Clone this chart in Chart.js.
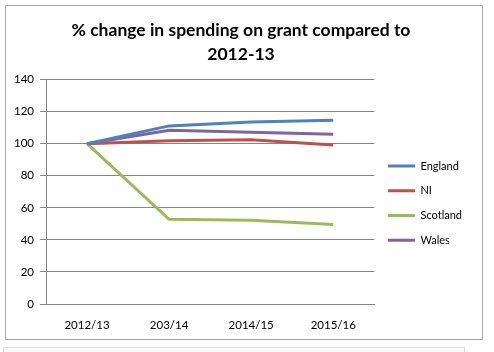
<!DOCTYPE html>
<html lang="en">
<head>
  <meta charset="UTF-8">
  <title>% change in spending on grant</title>
  <script src="https://cdn.jsdelivr.net/npm/chart.js"></script>
  <style>
    body { margin: 0; background: #fff; }
    #box { position: absolute; left: 5px; top: 5px; width: 476px; height: 333px; border: 1px solid #a6a6a6; }
    #under { position: absolute; left: 3px; top: 347px; width: 460px; height: 12px; border: 1px solid #dcdcdc; background: #f8f8f8; }
  </style>
</head>
<body>
  <div id="box"><canvas id="grafico" width="476" height="333"></canvas></div>
  <div id="under"></div>

  <script>
    const anni = ['2012/13', '203/14', '2014/15', '2015/16'];
    const england = [100, 111.1, 113.5, 114.6];
    const ni = [100, 101.8, 102.4, 99.1];
    const scotland = [100, 52.8, 52.2, 49.6];
    const wales = [100, 108.4, 107.2, 105.9];

    const font = 'Lato, "Open Sans", sans-serif';

    function serie(nome, valori, colore) {
      return {
        label: nome,
        data: valori,
        borderColor: colore,
        backgroundColor: colore,
        borderWidth: 3,
        pointRadius: 0,
        tension: 0,
        fill: false
      };
    }

    new Chart(document.getElementById('grafico'), {
      type: 'line',
      data: {
        labels: anni,
        datasets: [
          serie('England', england, '#4f81bd'),
          serie('NI', ni, '#c0504d'),
          serie('Scotland', scotland, '#9bbb59'),
          serie('Wales', wales, '#8064a2')
        ]
      },
      options: {
        responsive: false,
        animation: false,
        layout: { padding: { left: 4, right: 10, top: 0, bottom: 0 } },
        plugins: {
          title: {
            display: true,
            text: ['% change in spending on grant compared to', '2012-13'],
            color: '#000',
            font: { family: font, size: 17.5, weight: 'bold', lineHeight: 1.33 },
            padding: { top: 13, bottom: 14 }
          },
          legend: {
            position: 'right',
            // titolo vuoto solo per spingere le voci verso il basso
            title: { display: true, text: ' ', font: { size: 11 }, padding: { top: 0, bottom: 48 } },
            labels: {
              color: '#000',
              font: { family: font, size: 11 },
              usePointStyle: true,
              pointStyle: 'line',
              pointStyleWidth: 27,
              boxHeight: 11,
              padding: 13.7
            }
          },
          tooltip: { enabled: false }
        },
        scales: {
          x: {
            offset: true,
            grid: { display: false },
            border: { color: '#868686', width: 1 },
            ticks: { color: '#000', font: { family: font, size: 11.5 }, padding: 6, maxRotation: 0 },
            afterFit: s => { s.height = 35; }
          },
          y: {
            min: 0,
            max: 140,
            ticks: { stepSize: 20, color: '#000', font: { family: font, size: 11.5 }, padding: 6 },
            grid: { color: '#868686', tickLength: 6 },
            border: { color: '#868686', width: 1 },
            afterFit: s => { s.width = 36; }
          }
        }
      }
    });
  </script>
</body>
</html>
